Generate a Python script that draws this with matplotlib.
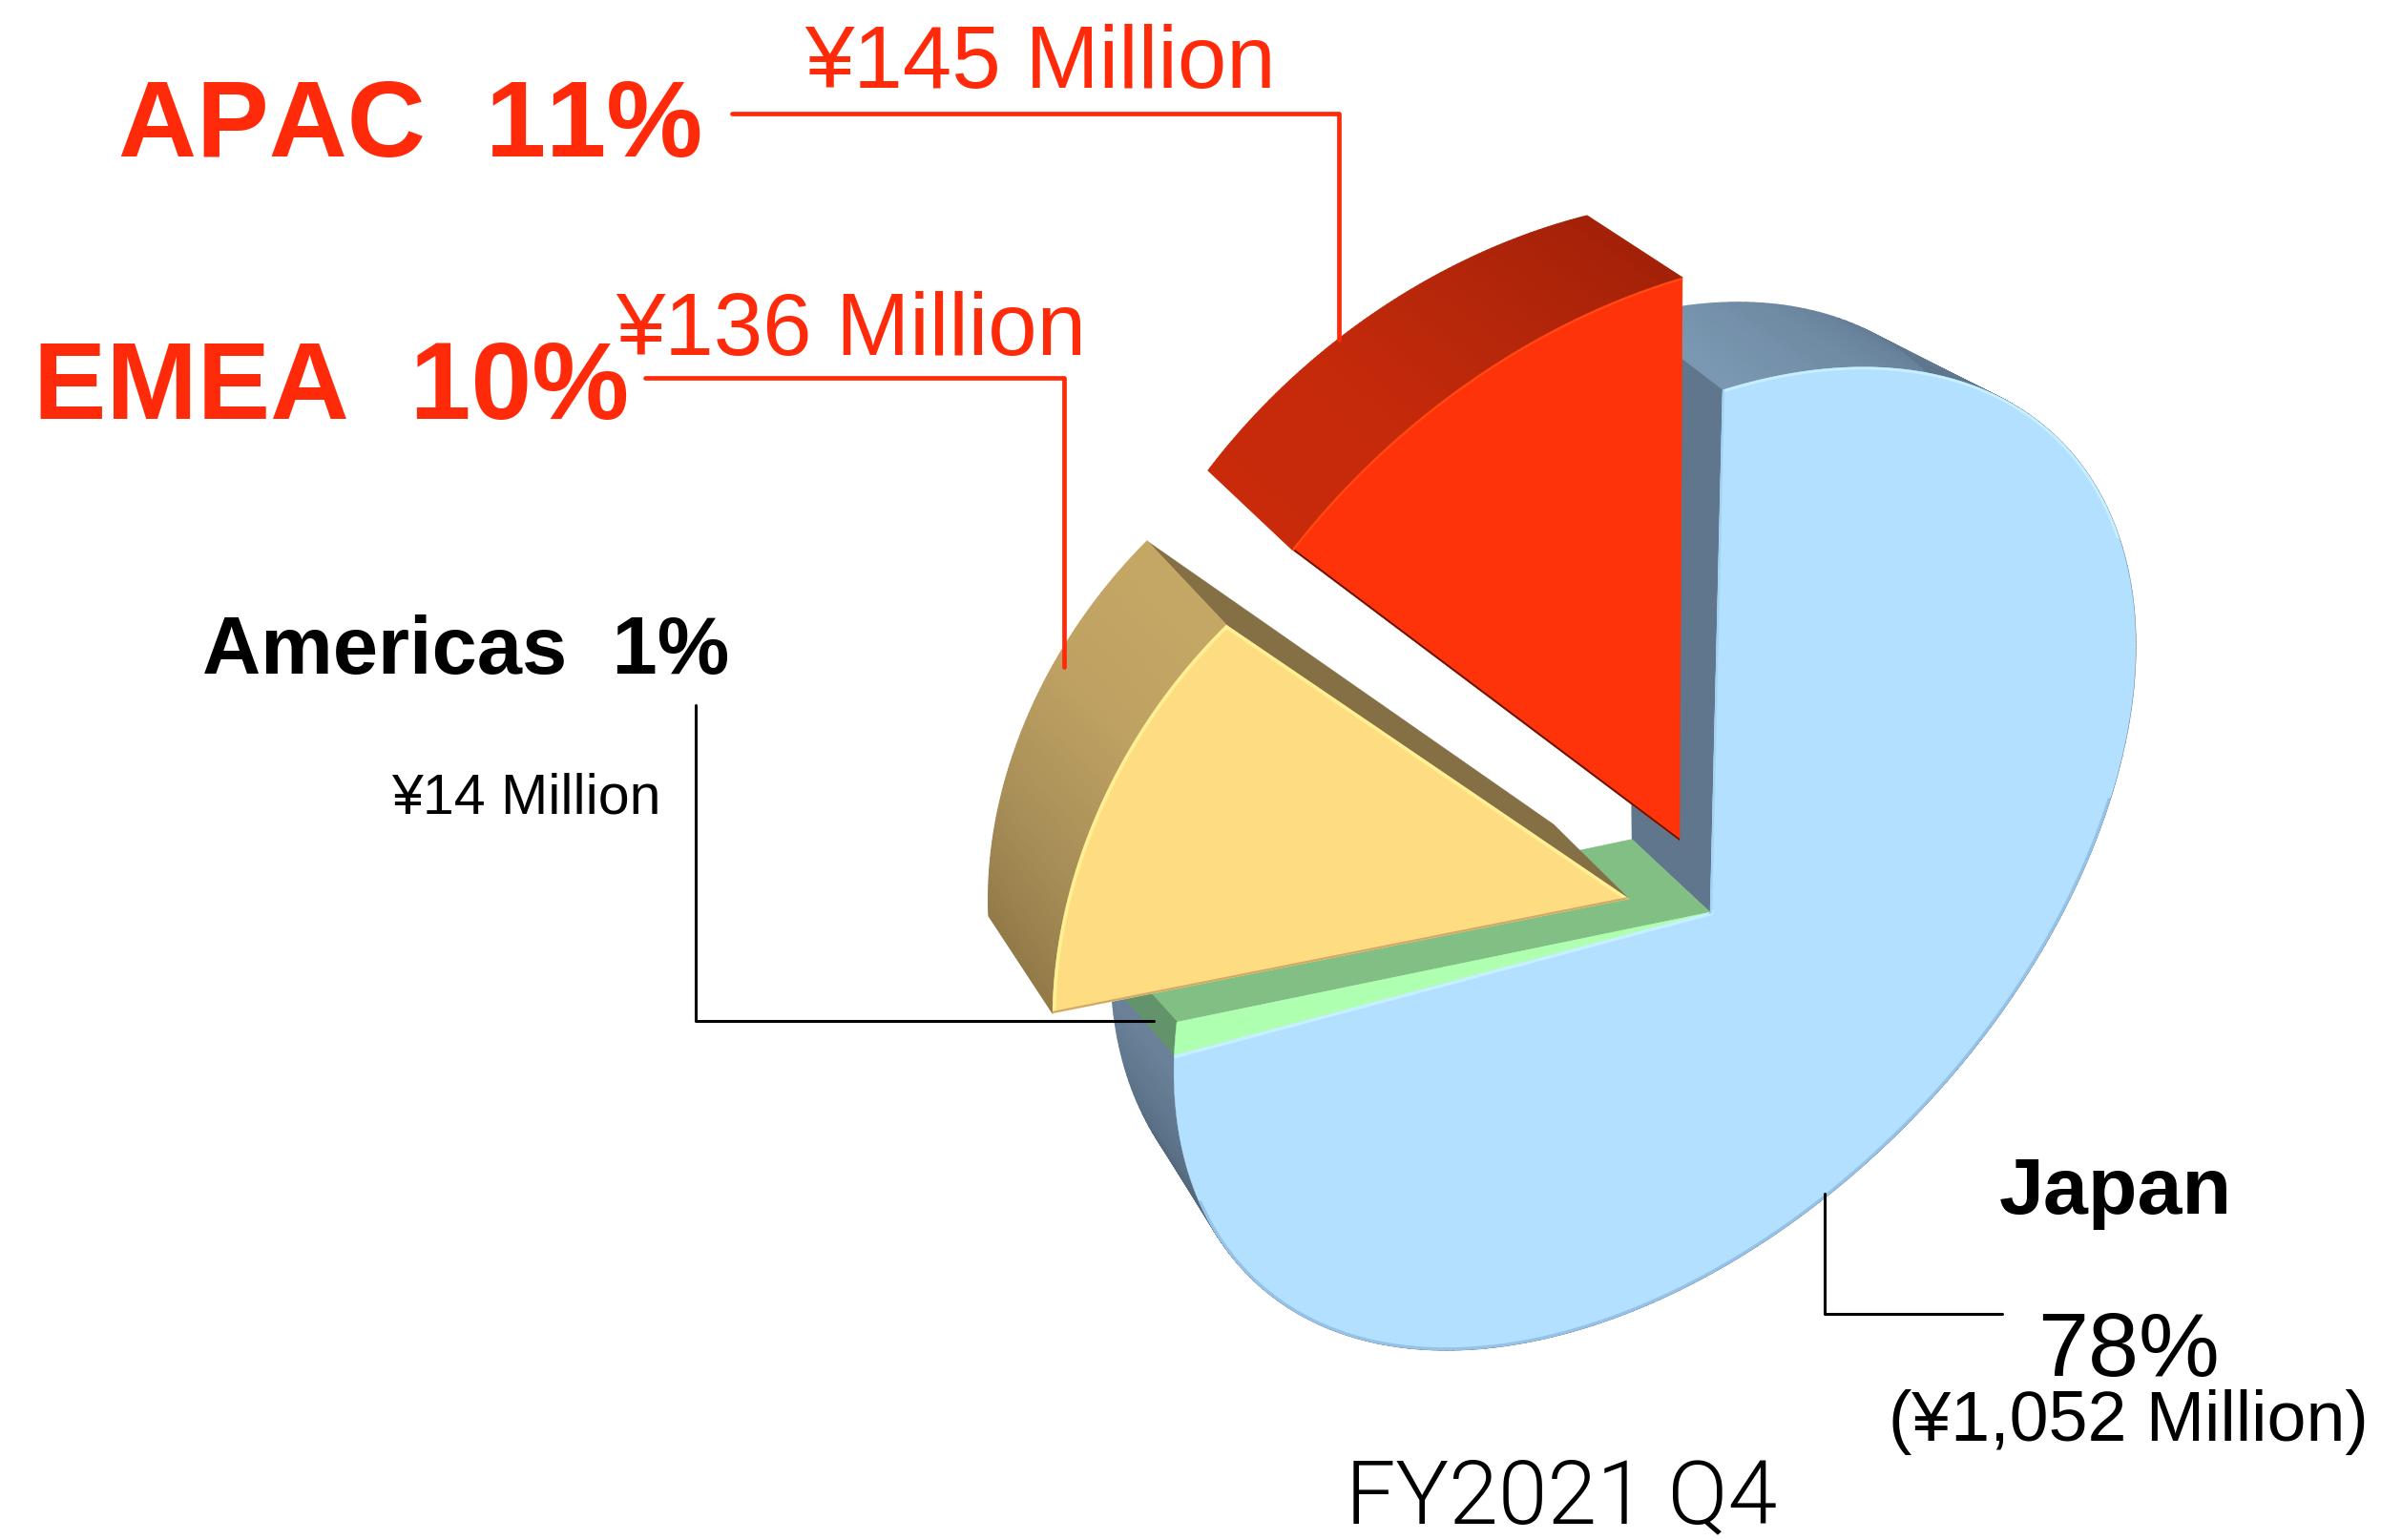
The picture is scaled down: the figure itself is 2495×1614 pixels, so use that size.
import numpy as np
import matplotlib
matplotlib.use("Agg")
import matplotlib.pyplot as plt
from matplotlib.patches import Polygon
from matplotlib.collections import PolyCollection
from matplotlib.colors import LinearSegmentedColormap

plt.rcParams["text.kerning_factor"] = 12

# ---- data ----
regions = ["Japan", "Americas", "EMEA", "APAC"]
shares = [78, 1, 10, 11]
amounts = [1052, 14, 136, 145]
period = "FY2021 Q4"

# ---- perspective calibration of the extruded disc (image pixels) ----
edges = np.cumsum([0] + shares) / sum(shares) * 360.0
JP0, JP1, AM1, EM1, AP1 = edges

front_cal = [(None, (1792, 957), 10), (0, (1805, 410), 6), (JP1, (1231, 1107), 6), (AM1, (1232, 1072), 4)]
front_outline = [(1958, 386), (2129, 427), (2236, 676), (2200, 867), (2067, 1100), (1919, 1252),
                 (1800, 1336), (1511, 1414), (1368, 1376), (1279, 1311), (1243, 1231)]
back_cal = [(None, (1710, 880), 10), (0, (1705, 335), 4), (90, (2097, 730), 1), (180, (1713, 1240), 1),
            (JP1, (1165, 1029), 3), (AM1, (1165, 1000), 3)]
back_outline = [(1849, 321), (1930, 332), (2015, 362), (1162, 1050), (1203, 1189)]
yellow_front = [(None, (1707, 943), 1), (AM1, (1103, 1063), 1), ((AM1 + EM1) / 2, (1155, 841), 1), (EM1, (1285, 656), 1)]
yellow_back = [(None, (1628, 865), 1), (AM1, (1036, 961), 1), ((AM1 + EM1) / 2, (1076, 754), 1), (EM1, (1202, 568), 1)]
red_front = [(None, (1760, 882), 1), (EM1, (1354, 577), 1), ((EM1 + AP1) / 2, (1538, 402), 1), (AP1, (1763, 292), 1)]
red_back = [(None, (1690, 800), 1), (EM1, (1266, 494), 1), ((EM1 + AP1) / 2, (1443, 327), 1), (AP1, (1663, 227), 1)]


def unit(t):
    t = np.radians(t)
    return np.sin(t), np.cos(t)


def fit(cal, outline=(), rounds=25):
    def solve(items):
        rows = []
        for a, (u, v), w in items:
            x, y = (0.0, 0.0) if a is None else unit(a)
            rows.append([w * c for c in (x, y, 1, 0, 0, 0, -u * x, -u * y, -u)])
            rows.append([w * c for c in (0, 0, 0, x, y, 1, -v * x, -v * y, -v)])
        return np.linalg.svd(np.array(rows))[2][-1].reshape(3, 3)

    H = solve(cal)
    for _ in range(rounds if len(outline) else 0):
        Hi = np.linalg.inv(H)
        items = list(cal)
        for p in outline:
            q = Hi @ np.array([p[0], p[1], 1.0])
            items.append((np.degrees(np.arctan2(q[0] / q[2], q[1] / q[2])), p, 1))
        H = solve(items)
    return H


def rim(H, a, b, n=160):
    t = np.linspace(a, b, n)
    x, y = unit(t)
    p = H @ np.vstack([x, y, np.ones_like(x)])
    return (p[:2] / p[2]).T


def centre(H):
    return H[:2, 2] / H[2, 2]


fig = plt.figure(figsize=(24.95, 16.15), dpi=100, facecolor="white")
ax = fig.add_axes([0, 0, 1, 1])
ax.set_xlim(0, 2495)
ax.set_ylim(1615, 0)
ax.axis("off")
z = [1]


def poly(pts, color):
    z[0] += 1
    p = Polygon(pts, closed=True, fc=color, ec=color, lw=0.3, zorder=z[0])
    ax.add_patch(p)
    return p


def side(Hf, Hb, a, b, stops, n=160):
    cm = LinearSegmentedColormap.from_list("s", stops)
    f, k = rim(Hf, a, b, n), rim(Hb, a, b, n)
    quads = [[f[i], f[i + 1], k[i + 1], k[i]] for i in range(n - 1)]
    cols = [cm(i / (n - 2)) for i in range(n - 1)]
    z[0] += 1
    ax.add_collection(PolyCollection(quads, facecolors=cols, edgecolors=cols, linewidths=0.8, zorder=z[0]))


def line(pts, color, lw, clip=None):
    z[0] += 1
    pts = np.asarray(pts)
    l, = ax.plot(pts[:, 0], pts[:, 1], color=color, lw=lw, solid_capstyle="round", zorder=z[0])
    if clip is not None:
        l.set_clip_path(clip)


F, B = fit(front_cal, front_outline), fit(back_cal, back_outline)
YF, YB = fit(yellow_front), fit(yellow_back)
RF, RB = fit(red_front), fit(red_back)

# Japan body
side(F, B, JP0, JP1,
     [(0, "#7A98B2"), (0.05, "#6F8AA3"), (0.15, "#5B7289"), (0.3, "#4E6479"), (0.45, "#3C4E5E"),
      (0.8, "#3C4E5E"), (0.92, "#506579"), (1, "#6A8199")], n=300)
poly([rim(F, 0, 0, 2)[0], rim(B, 0, 0, 2)[0], centre(B), centre(F)], "#5F768C")
# Americas body
poly([centre(F), rim(F, AM1, AM1, 2)[0], rim(B, AM1, AM1, 2)[0], centre(B)], "#82BF84")
side(F, B, JP1, AM1, ["#63936A", "#63936A"], n=12)
# Top faces
top = poly(np.vstack([[centre(F)], rim(F, JP0, JP1, 400)]), "#B4E0FF")
poly(np.vstack([[centre(F)], rim(F, JP1, AM1, 20)]), "#AFFFB0")
line(rim(F, 100, 262, 300), "#94C2E8", 4, top)
line(rim(F, 0, 62, 80), "#C6EFFF", 4, top)
line([centre(F), rim(F, JP1, JP1, 2)[0]], "#C6EFFF", 5, top)
line([rim(F, 0, 0, 2)[0], centre(F)], "#A4D2F4", 3, top)
# APAC
side(RF, RB, EM1, AP1, ["#C82A0A", "#C52A0A", "#B4260A", "#A32108"], n=100)
rt = poly(np.vstack([[centre(RF)], rim(RF, EM1, AP1, 200)]), "#FF330A")
line([centre(RF), rim(RF, EM1, EM1, 2)[0]], "#5A1408", 2.5, rt)
line(rim(RF, EM1, AP1, 100), "#FF4A14", 3, rt)
# EMEA
poly([rim(YF, EM1, EM1, 2)[0], rim(YB, EM1, EM1, 2)[0], centre(YB), centre(YF)], "#847044")
side(YF, YB, AM1, EM1, ["#927A48", "#A98F58", "#BFA263", "#C5A765"], n=100)
yt = poly(np.vstack([[centre(YF)], rim(YF, AM1, EM1, 200)]), "#FEDD82")
line(rim(YF, AM1, EM1, 100), "#FFF094", 5, yt)
line([centre(YF), rim(YF, EM1, EM1, 2)[0]], "#FFF094", 5, yt)
line([centre(YF), rim(YF, AM1, AM1, 2)[0]], "#D2A868", 3, yt)

red, black = "#FF2A0A", "#000000"
z[0] = 50
line([(767, 120), (1403, 120), (1403, 357)], red, 3.4)
line([(676, 397), (1115, 397), (1115, 700)], red, 3.4)
line([(729, 740), (729, 1071), (1209, 1071)], black, 2.2)
line([(1912, 1252), (1912, 1378), (2098, 1378)], black, 2.2)

fig.canvas.draw()
rend = fig.canvas.get_renderer()


def label(s, x0, x1, base, color=black, weight="normal", family="Liberation Sans"):
    t = ax.text(x0, base, s, color=color, fontweight=weight, family=family, ha="left", va="baseline",
                fontsize=50, zorder=60)
    bb = t.get_window_extent(rend)
    t.set_fontsize(50 * (x1 - x0) / bb.width)
    bb = t.get_window_extent(rend)
    t.set_x(x0 - (bb.x0 - x0))


label(f"{regions[3]}  {shares[3]}%", 124, 737, 164, red, "bold")
label(f"¥{amounts[3]} Million", 843, 1337, 92, red)
label(f"{regions[2]}  {shares[2]}%", 35, 660, 439, red, "bold")
label(f"¥{amounts[2]} Million", 645, 1138, 372, red)
label(f"{regions[1]}  {shares[1]}%", 212, 764, 706, black, "bold")
label(f"¥{amounts[1]} Million", 410, 692, 853)
label(regions[0], 2095, 2339, 1272, black, "bold")
label(f"{shares[0]}%", 2135, 2326, 1442)
label(f"(¥{amounts[0]:,} Million)", 1979, 2482, 1510)
label(period, 1410, 1862, 1596, family=["Roboto", "Liberation Sans"], weight=300)

fig.savefig("out.png", dpi=100, facecolor="white")
